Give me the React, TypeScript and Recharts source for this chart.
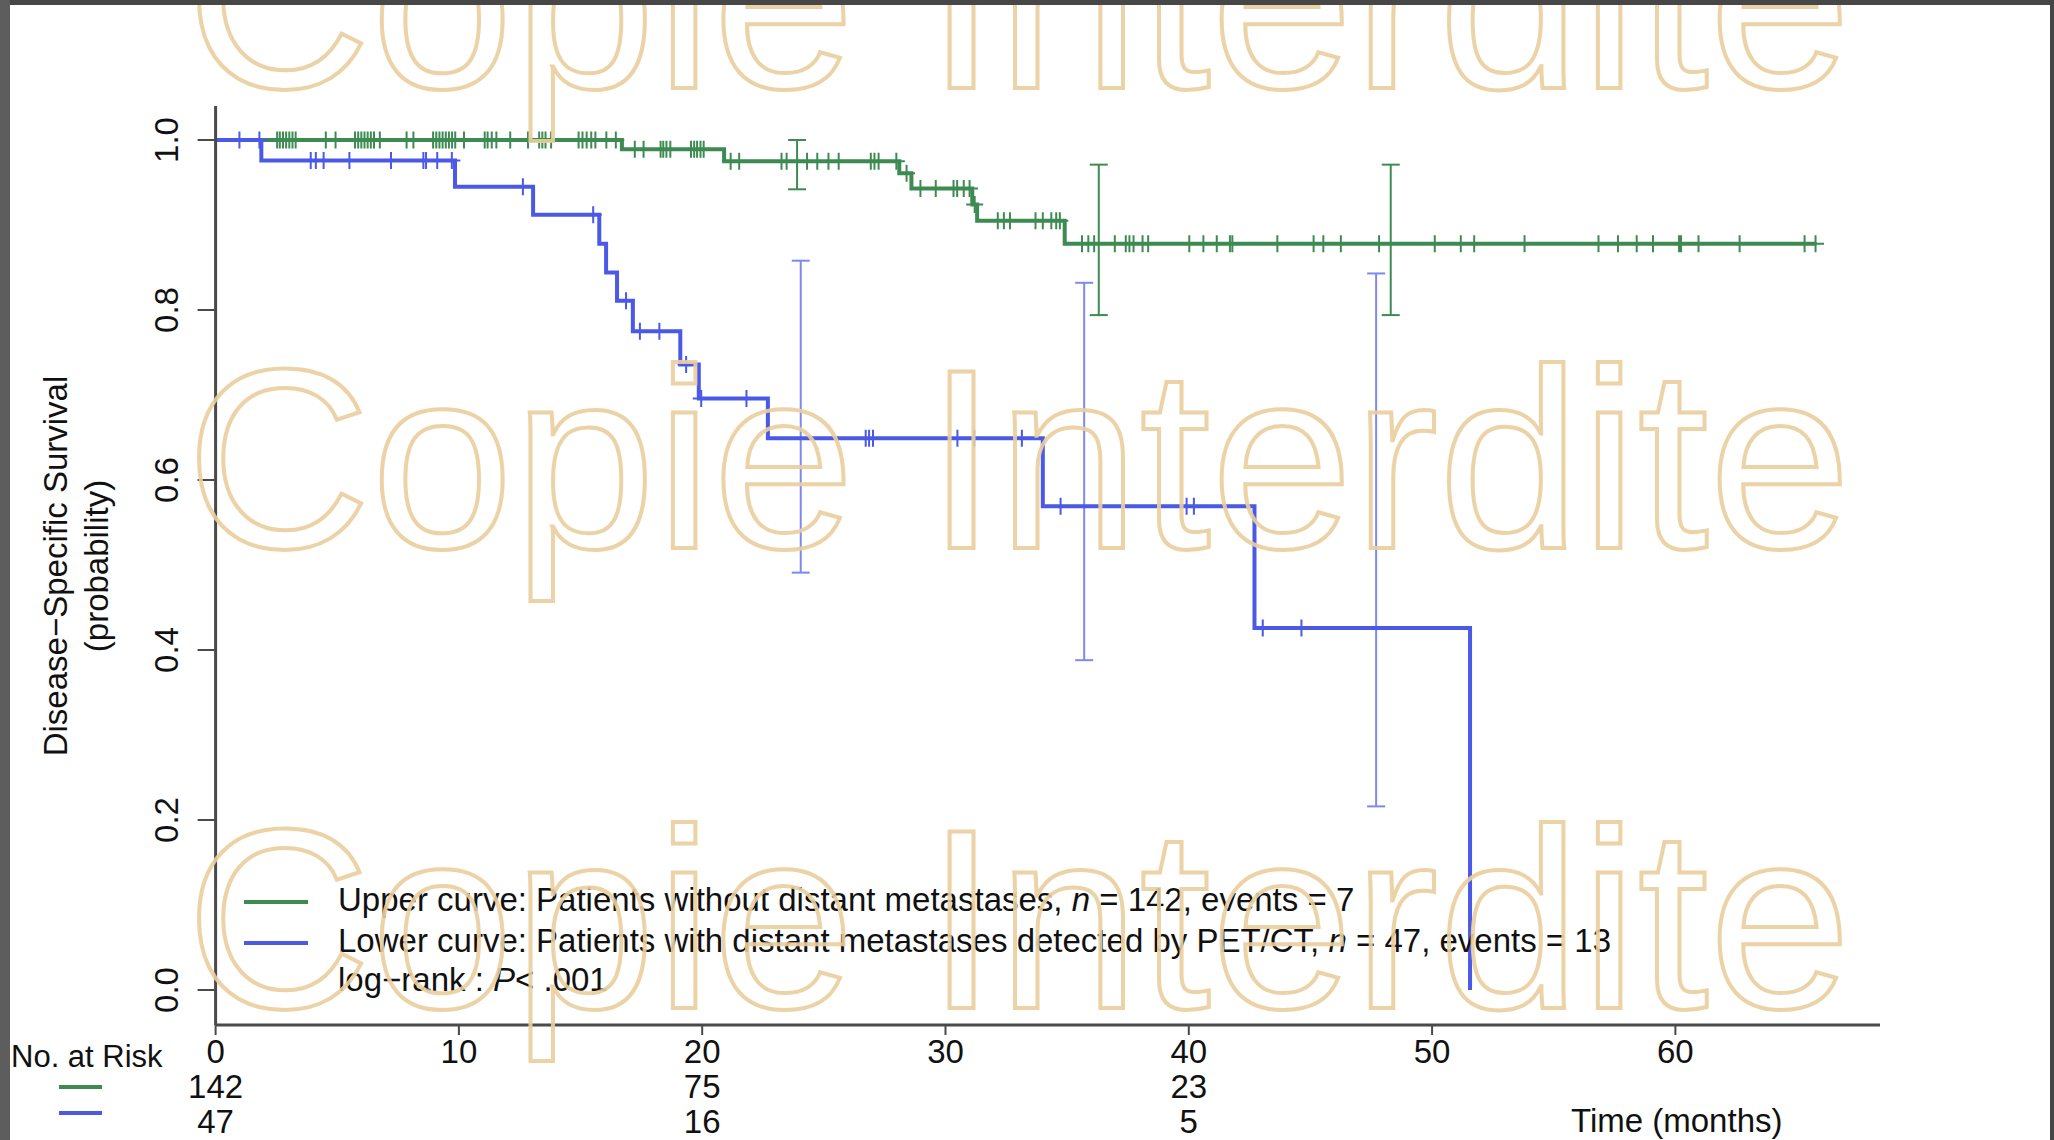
import React from "react";
import { ComposedChart, Line, Scatter, XAxis, YAxis, ErrorBar } from "recharts";

const GREEN = "#3d8b52";
const BLUE = "#4a59e6";
const AXIS = "#4a4a4a";
const FONT = '"Liberation Sans", Arial, Helvetica, sans-serif';

// Kaplan-Meier steps: time (months) and survival probability after each event
const upperTimes = [0, 16.7, 20.9, 28.1, 28.6, 31.1, 31.3, 34.9, 65.8];
const upperSurv = [1.0, 0.989, 0.975, 0.961, 0.943, 0.924, 0.905, 0.878, 0.878];
const lowerTimes = [0, 1.88, 9.84, 13.05, 15.77, 16.05, 16.5, 17.15, 19.1, 19.86, 22.7, 34.0, 42.7, 51.56];
const lowerSurv = [1.0, 0.976, 0.945, 0.912, 0.878, 0.844, 0.811, 0.775, 0.736, 0.696, 0.649, 0.569, 0.426, 0];

// censoring times
const upperCensored = [
  2.53, 2.64, 2.77, 2.9, 3.03, 3.16, 3.29, 4.53, 4.93, 5.73, 5.86, 5.99, 6.12, 6.25, 6.38, 6.51, 6.75,
  7.85, 8.13, 8.94, 9.07, 9.2, 9.33, 9.46, 9.59, 9.72, 9.85, 10.21, 11.06, 11.18, 11.35, 11.54, 12.11,
  12.84, 13.3, 13.43, 13.56, 13.79, 14.92, 15.08, 15.25, 15.44, 15.61, 16.06, 16.45,
  17.23, 17.59, 18.29, 18.4, 18.53, 18.69, 19.54, 19.67, 19.79, 19.93, 20.06,
  21.17, 21.52, 23.26, 23.47, 24.31, 24.73, 25.19, 25.61, 26.93, 27.08, 27.25, 27.98,
  28.4, 28.97, 29.6, 30.33, 30.48, 30.75, 30.99, 31.2,
  32.15, 32.4, 32.65, 33.7, 34.0, 34.35, 34.55, 34.7,
  35.61, 35.87, 36.11, 36.96, 37.41, 37.56, 37.73, 38.1, 38.33, 40.02, 40.6, 41.15, 41.69, 41.79,
  43.64, 45.13, 45.53, 46.25, 47.82, 50.11, 51.18, 51.73, 53.8, 56.84, 57.64, 58.41, 59.08, 60.15,
  60.23, 60.95, 62.64, 65.31, 65.76,
];
const lowerCensored = [
  0.98, 1.8, 3.91, 4.12, 4.44, 5.5, 7.21, 8.54, 8.65, 9.11, 9.71, 12.63, 15.52, 16.87, 17.44, 18.24,
  19.34, 19.96, 21.82, 26.72, 26.86, 27.02, 30.49, 31.18, 33.14, 34.73, 39.91, 40.21, 43.04, 44.63,
];

// 95% confidence intervals at yearly marks
const upperCiTimes = [23.9, 36.3, 48.3];
const upperCiLow = [0.942, 0.794, 0.794];
const upperCiHigh = [1.0, 0.971, 0.971];
const lowerCiTimes = [24.05, 35.7, 47.7];
const lowerCiLow = [0.491, 0.388, 0.216];
const lowerCiHigh = [0.858, 0.832, 0.843];

const xTicks = [0, 10, 20, 30, 40, 50, 60];
const yTicks = [0, 0.2, 0.4, 0.6, 0.8, 1.0];
const riskTimes = [0, 20, 40];
const upperAtRisk = [142, 75, 23];
const lowerAtRisk = [47, 16, 5];

const WATERMARK_ROWS = [88, 548, 1008];

function survAt(times: number[], surv: number[], t: number) {
  let s = surv[0];
  for (let i = 0; i < times.length; i++) if (times[i] <= t) s = surv[i];
  return s;
}

const upperData = upperTimes.map((t, i) => ({ t, s: upperSurv[i] }));
const lowerData = lowerTimes.map((t, i) => ({ t, s: lowerSurv[i] }));
const upperMarks = upperCensored.map((t) => ({ t, s: survAt(upperTimes, upperSurv, t) }));
const lowerMarks = lowerCensored.map((t) => ({ t, s: survAt(lowerTimes, lowerSurv, t) }));
const upperCi = upperCiTimes.map((t, i) => {
  const s = survAt(upperTimes, upperSurv, t);
  return { t, s, err: [s - upperCiLow[i], upperCiHigh[i] - s] };
});
const lowerCi = lowerCiTimes.map((t, i) => {
  const s = survAt(lowerTimes, lowerSurv, t);
  return { t, s, err: [s - lowerCiLow[i], lowerCiHigh[i] - s] };
});

const plus = (color: string) => (p: any) => {
  const { cx, cy } = p;
  if (cx == null || cy == null) return <g />;
  return (
    <path
      d={`M${cx - 8.5},${cy}h17M${cx},${cy - 8.5}v17`}
      stroke={color}
      strokeWidth={2}
      fill="none"
    />
  );
};

const TimeTick = (p: any) => {
  const { x, y, payload } = p;
  const i = riskTimes.indexOf(payload.value);
  const common = { x, textAnchor: "middle" as const, fontSize: 33, fontFamily: FONT, fill: "#111" };
  return (
    <g>
      <text {...common} y={y + 28}>{payload.value}</text>
      {i >= 0 && <text {...common} y={y + 63}>{upperAtRisk[i]}</text>}
      {i >= 0 && <text {...common} y={y + 98}>{lowerAtRisk[i]}</text>}
    </g>
  );
};

const SurvTick = (p: any) => {
  const { x, y, payload } = p;
  const bx = x - 20;
  return (
    <text
      x={bx}
      y={y}
      transform={`rotate(-90 ${bx} ${y})`}
      textAnchor="middle"
      fontSize={33}
      fontFamily={FONT}
      fill="#111"
    >
      {Number(payload.value).toFixed(1)}
    </text>
  );
};

export default function App() {
  const txt = { fontFamily: FONT, fontSize: 33, fill: "#111" };
  return (
    <div style={{ position: "relative", width: 2054, height: 1140, background: "#fff" }}>
      <style>{`body{margin:0}`}</style>
      <ComposedChart width={2054} height={1140} margin={{ top: 106, right: 174, bottom: 0, left: 0 }}>
        <XAxis
          type="number"
          dataKey="t"
          domain={[0, 68.41]}
          allowDataOverflow
          ticks={xTicks}
          interval={0}
          height={115}
          tickSize={10}
          tickMargin={0}
          axisLine={{ stroke: AXIS, strokeWidth: 3 }}
          tickLine={{ stroke: AXIS, strokeWidth: 2 }}
          tick={(p: any) => <TimeTick {...p} />}
        />
        <YAxis
          type="number"
          domain={[-0.0412, 1.04]}
          allowDataOverflow
          ticks={yTicks}
          interval={0}
          width={215.6}
          tickSize={18}
          tickMargin={0}
          axisLine={{ stroke: AXIS, strokeWidth: 3 }}
          tickLine={{ stroke: AXIS, strokeWidth: 2 }}
          tick={(p: any) => <SurvTick {...p} />}
        />
        <Scatter data={upperCi} dataKey="s" shape={() => <g />} isAnimationActive={false}>
          <ErrorBar dataKey="err" direction="y" width={9} stroke={GREEN} strokeWidth={2} isAnimationActive={false} />
        </Scatter>
        <Scatter data={lowerCi} dataKey="s" shape={() => <g />} isAnimationActive={false}>
          <ErrorBar dataKey="err" direction="y" width={9} stroke="#7f88ee" strokeWidth={2} isAnimationActive={false} />
        </Scatter>
        <Line
          data={upperData}
          dataKey="s"
          type="stepAfter"
          stroke={GREEN}
          strokeWidth={4}
          dot={false}
          activeDot={false}
          isAnimationActive={false}
        />
        <Line
          data={lowerData}
          dataKey="s"
          type="stepAfter"
          stroke={BLUE}
          strokeWidth={4}
          dot={false}
          activeDot={false}
          isAnimationActive={false}
        />
        <Scatter data={upperMarks} dataKey="s" shape={plus(GREEN)} isAnimationActive={false} />
        <Scatter data={lowerMarks} dataKey="s" shape={plus(BLUE)} isAnimationActive={false} />
      </ComposedChart>

      <svg
        width={2054}
        height={1140}
        style={{ position: "absolute", left: 0, top: 0, pointerEvents: "none" }}
      >
        {/* axis title */}
        <text {...txt} x={67} y={566} textAnchor="middle" transform="rotate(-90 67 566)">
          Disease−Specific Survival
        </text>
        <text {...txt} x={108} y={566} textAnchor="middle" transform="rotate(-90 108 566)">
          (probability)
        </text>

        {/* legend */}
        <line x1={244} x2={308} y1={902} y2={902} stroke={GREEN} strokeWidth={4} />
        <line x1={244} x2={308} y1={943} y2={943} stroke={BLUE} strokeWidth={4} />
        <text {...txt} x={338} y={911}>
          {"Upper curve: Patients without distant metastases, "}
          <tspan fontStyle="italic">n</tspan>
          {" = 142, events = 7"}
        </text>
        <text {...txt} x={338} y={952}>
          {"Lower curve: Patients with distant metastases detected by PET/CT, "}
          <tspan fontStyle="italic">n</tspan>
          {" = 47, events = 13"}
        </text>
        <text {...txt} x={338} y={991}>
          {"log−rank : "}
          <tspan fontStyle="italic">P</tspan>
          {"< .001"}
        </text>

        {/* numbers at risk */}
        <text {...txt} fontSize={31} x={11} y={1067}>No. at Risk</text>
        <line x1={59} x2={102} y1={1087} y2={1087} stroke={GREEN} strokeWidth={4} />
        <line x1={59} x2={102} y1={1113} y2={1113} stroke={BLUE} strokeWidth={4} />
        <text {...txt} x={1571} y={1132}>Time (months)</text>

        {/* watermark */}
        {WATERMARK_ROWS.map((y) => (
          <text
            key={y}
            x={186}
            y={y}
            fontFamily={FONT}
            fontSize={256}
            fill="none"
            stroke="#ebcf9e"
            strokeWidth={4}
            opacity={0.9}
          >
            Copie Interdite
          </text>
        ))}

        {/* window frame */}
        <rect x={0} y={0} width={2054} height={5} fill="#474747" />
        <rect x={0} y={0} width={10} height={1140} fill="#5d5d5d" />
        <rect x={2050} y={0} width={4} height={1140} fill="#454545" />
      </svg>
    </div>
  );
}
